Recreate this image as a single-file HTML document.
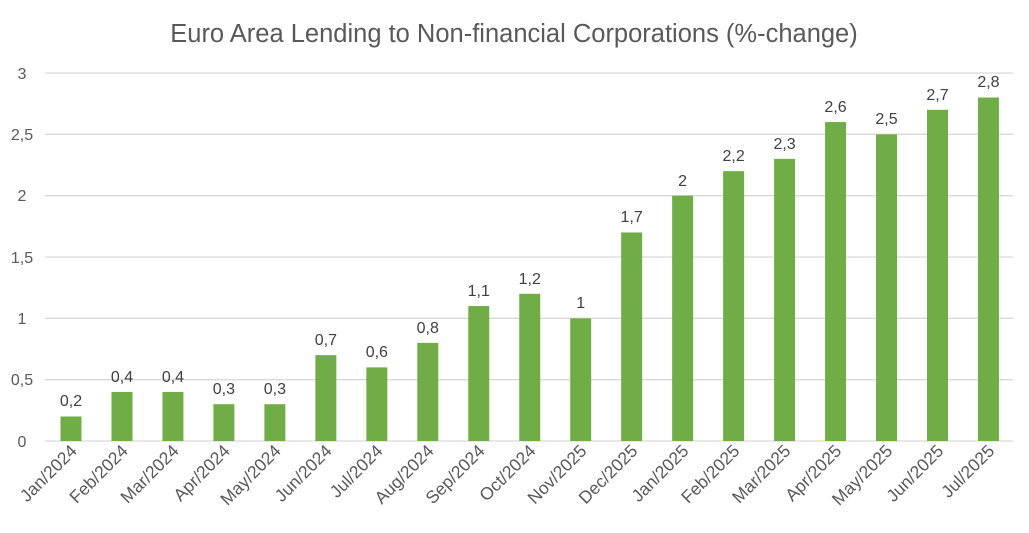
<!DOCTYPE html>
<html><head><style>body{margin:0;background:#fff}</style></head><body>
<svg width="1029" height="528" xmlns="http://www.w3.org/2000/svg" font-family="Liberation Sans, sans-serif">
<rect width="1029" height="528" fill="#fff"/>
<text x="514" y="42" text-anchor="middle" font-size="25.5" fill="#595959">Euro Area Lending to Non-financial Corporations (%-change)</text>
<g stroke="#d9d9d9" stroke-width="1.3">
<line x1="45" x2="1013" y1="73" y2="73"/><line x1="45" x2="1013" y1="134.3" y2="134.3"/><line x1="45" x2="1013" y1="195.7" y2="195.7"/><line x1="45" x2="1013" y1="257" y2="257"/><line x1="45" x2="1013" y1="318.3" y2="318.3"/><line x1="45" x2="1013" y1="379.7" y2="379.7"/><line x1="45" x2="1013" y1="441" y2="441"/>
</g>
<g font-size="16" fill="#595959" text-anchor="middle">
<text x="22" y="79">3</text><text x="22" y="140">2,5</text><text x="22" y="201">2</text><text x="22" y="263">1,5</text><text x="22" y="324">1</text><text x="22" y="385">0,5</text><text x="22" y="447">0</text>
</g>
<g fill="#70ad47">
<rect x="60.5" y="416.47" width="21" height="24.53"/>
<rect x="111.47" y="391.93" width="21" height="49.07"/>
<rect x="162.44" y="391.93" width="21" height="49.07"/>
<rect x="213.41" y="404.2" width="21" height="36.8"/>
<rect x="264.38" y="404.2" width="21" height="36.8"/>
<rect x="315.35" y="355.13" width="21" height="85.87"/>
<rect x="366.32" y="367.4" width="21" height="73.6"/>
<rect x="417.29" y="342.86" width="21" height="98.14"/>
<rect x="468.26" y="306.06" width="21" height="134.94"/>
<rect x="519.23" y="293.8" width="21" height="147.2"/>
<rect x="570.2" y="318.33" width="21" height="122.67"/>
<rect x="621.17" y="232.46" width="21" height="208.54"/>
<rect x="672.14" y="195.66" width="21" height="245.34"/>
<rect x="723.11" y="171.13" width="21" height="269.87"/>
<rect x="774.08" y="158.86" width="21" height="282.14"/>
<rect x="825.05" y="122.06" width="21" height="318.94"/>
<rect x="876.02" y="134.32" width="21" height="306.68"/>
<rect x="926.99" y="109.79" width="21" height="331.21"/>
<rect x="977.96" y="97.52" width="21" height="343.48"/>
</g>
<g font-size="16" fill="#404040" text-anchor="middle">
<text x="71" y="406">0,2</text>
<text x="121.97" y="382">0,4</text>
<text x="172.94" y="382">0,4</text>
<text x="223.91" y="394">0,3</text>
<text x="274.88" y="394">0,3</text>
<text x="325.85" y="345">0,7</text>
<text x="376.82" y="357">0,6</text>
<text x="427.79" y="333">0,8</text>
<text x="478.76" y="296">1,1</text>
<text x="529.73" y="284">1,2</text>
<text x="580.7" y="308">1</text>
<text x="631.67" y="222">1,7</text>
<text x="682.64" y="186">2</text>
<text x="733.61" y="161">2,2</text>
<text x="784.58" y="149">2,3</text>
<text x="835.55" y="112">2,6</text>
<text x="886.52" y="124">2,5</text>
<text x="937.49" y="100">2,7</text>
<text x="988.46" y="87">2,8</text>
</g>
<g font-size="17.5" fill="#595959" text-anchor="end">
<text transform="translate(78,452) rotate(-45)">Jan/2024</text>
<text transform="translate(128.97,452) rotate(-45)">Feb/2024</text>
<text transform="translate(179.94,452) rotate(-45)">Mar/2024</text>
<text transform="translate(230.91,452) rotate(-45)">Apr/2024</text>
<text transform="translate(281.88,452) rotate(-45)">May/2024</text>
<text transform="translate(332.85,452) rotate(-45)">Jun/2024</text>
<text transform="translate(383.82,452) rotate(-45)">Jul/2024</text>
<text transform="translate(434.79,452) rotate(-45)">Aug/2024</text>
<text transform="translate(485.76,452) rotate(-45)">Sep/2024</text>
<text transform="translate(536.73,452) rotate(-45)">Oct/2024</text>
<text transform="translate(587.7,452) rotate(-45)">Nov/2025</text>
<text transform="translate(638.67,452) rotate(-45)">Dec/2025</text>
<text transform="translate(689.64,452) rotate(-45)">Jan/2025</text>
<text transform="translate(740.61,452) rotate(-45)">Feb/2025</text>
<text transform="translate(791.58,452) rotate(-45)">Mar/2025</text>
<text transform="translate(842.55,452) rotate(-45)">Apr/2025</text>
<text transform="translate(893.52,452) rotate(-45)">May/2025</text>
<text transform="translate(944.49,452) rotate(-45)">Jun/2025</text>
<text transform="translate(995.46,452) rotate(-45)">Jul/2025</text>
</g>
</svg>
</body></html>
